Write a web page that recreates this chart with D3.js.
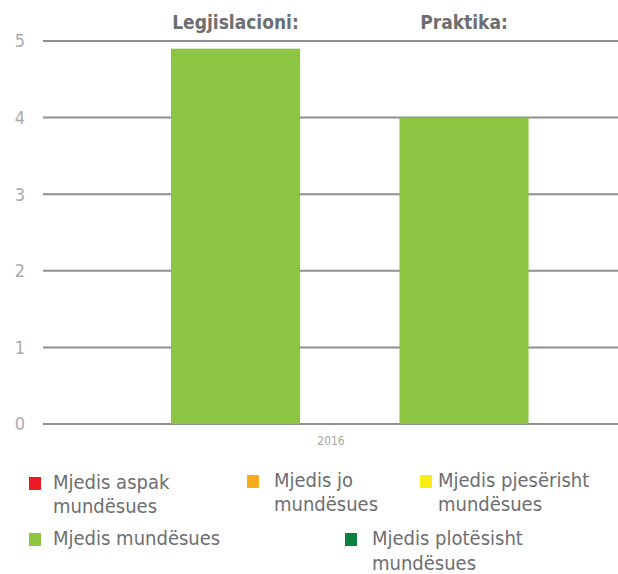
<!DOCTYPE html>
<html>
<head>
<meta charset="utf-8">
<script src="https://cdn.jsdelivr.net/npm/d3@7"></script>
<style>
  body { margin: 0; background: #fff; }
  svg { display: block; }
</style>
</head>
<body>
<div id="chart"></div>
<script>
const categories = ["Legjislacioni:", "Praktika:"];
const values = [4.9, 4.0];
const yTicks = [0, 1, 2, 3, 4, 5];
const xLabel = "2016";
const legendLabels = [
  ["Mjedis aspak", "mundësues"],
  ["Mjedis jo", "mundësues"],
  ["Mjedis pjesërisht", "mundësues"],
  ["Mjedis mundësues"],
  ["Mjedis plotësisht", "mundësues"]
];
const legendColors = ["#ed1c24", "#fbaa19", "#f7ec13", "#8dc63f", "#0b8140"];

const width = 618, height = 574;
const font = '"DejaVu Sans Condensed", "Liberation Sans Narrow", sans-serif';

const svg = d3.select("#chart")
  .append("svg")
  .attr("width", width)
  .attr("height", height);

const x = d3.scaleBand()
  .domain(categories)
  .range([121.25, 578.25])
  .paddingInner(0.435)
  .paddingOuter(0.2175);

const y = d3.scaleLinear()
  .domain([0, 5])
  .range([424, 41]);

// gridlines
svg.append("g")
  .selectAll("line")
  .data(yTicks)
  .enter().append("line")
  .attr("x1", 43)
  .attr("x2", width)
  .attr("y1", d => y(d))
  .attr("y2", d => y(d))
  .attr("stroke", "#8f8f8f")
  .attr("stroke-width", 2);

// y labels
svg.append("g")
  .selectAll("text")
  .data(yTicks)
  .enter().append("text")
  .attr("x", 20)
  .attr("y", d => y(d))
  .attr("dy", "0.35em")
  .attr("text-anchor", "middle")
  .attr("fill", "#ababab")
  .style("font-family", font)
  .style("font-size", "18px")
  .style("font-weight", "300")
  .text(d => d);

// bars
svg.append("g")
  .selectAll("rect")
  .data(values)
  .enter().append("rect")
  .attr("x", (d, i) => x(categories[i]))
  .attr("width", x.bandwidth())
  .attr("y", d => y(d))
  .attr("height", d => y(0) - y(d))
  .attr("fill", "#8bc541");

// headers
svg.append("g")
  .selectAll("text")
  .data(categories)
  .enter().append("text")
  .attr("x", d => x(d) + x.bandwidth() / 2)
  .attr("y", 29)
  .attr("text-anchor", "middle")
  .attr("fill", "#6d6e71")
  .style("font-family", font)
  .style("font-weight", "bold")
  .style("font-size", "19px")
  .text(d => d);

svg.append("text")
  .attr("x", 331)
  .attr("y", 445)
  .attr("text-anchor", "middle")
  .attr("fill", "#a6a6a6")
  .style("font-family", font)
  .style("font-size", "12px")
  .text(xLabel);

// legend
const legendPos = [[29, 489], [247, 487], [420, 487], [29, 545], [345, 545]];
const textOffset = [24, 27, 18, 24, 27];
const lineGap = [24, 24, 24, 0, 25];

const item = svg.append("g")
  .selectAll("g")
  .data(legendLabels)
  .enter().append("g")
  .attr("transform", (d, i) => `translate(${legendPos[i][0]},${legendPos[i][1]})`);

item.append("rect")
  .attr("x", 0)
  .attr("y", -12)
  .attr("width", 12)
  .attr("height", 13)
  .attr("fill", (d, i) => legendColors[i]);

item.append("text")
  .attr("x", (d, i) => textOffset[i])
  .attr("fill", "#6d6e71")
  .style("font-family", font)
  .style("font-size", "20px")
  .each(function (d, i) {
    d3.select(this).selectAll("tspan")
      .data(d)
      .enter().append("tspan")
      .attr("x", textOffset[i])
      .attr("dy", (t, j) => j === 0 ? 0 : lineGap[i])
      .text(t => t);
  });
</script>
</body>
</html>
